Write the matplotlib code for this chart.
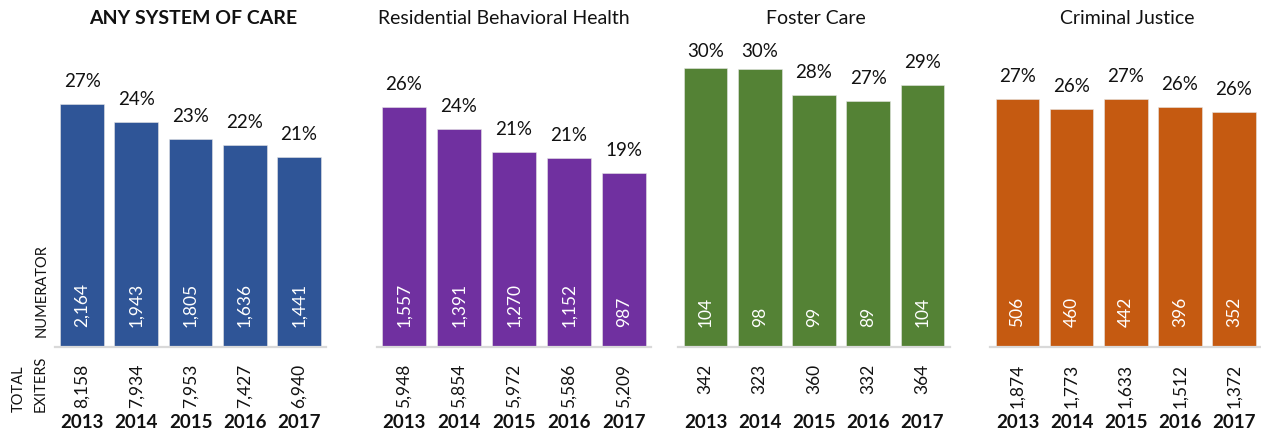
import matplotlib.pyplot as plt
from matplotlib.transforms import blended_transform_factory

plt.rcParams['font.family'] = ['Lato', 'DejaVu Sans']

years = ['2013', '2014', '2015', '2016', '2017']

any_numerator = [2164, 1943, 1805, 1636, 1441]
any_total = [8158, 7934, 7953, 7427, 6940]

rbh_numerator = [1557, 1391, 1270, 1152, 987]
rbh_total = [5948, 5854, 5972, 5586, 5209]

foster_numerator = [104, 98, 99, 89, 104]
foster_total = [342, 323, 360, 332, 364]

cj_numerator = [506, 460, 442, 396, 352]
cj_total = [1874, 1773, 1633, 1512, 1372]

panels = [
    ('ANY SYSTEM OF CARE', any_numerator, any_total, '#2F5597', True),
    ('Residential Behavioral Health', rbh_numerator, rbh_total, '#7030A0', False),
    ('Foster Care', foster_numerator, foster_total, '#548235', False),
    ('Criminal Justice', cj_numerator, cj_total, '#C55A11', False),
]

# layout in pixels (figure is 1261 x 434 at 100 dpi)
W, H = 1261, 434
panel_x = [(55, 326), (376.5, 651.5), (678.4, 949.6), (990.4, 1261)]
title_x = [193, 504, 816, 1127]
base_px, top_px = 347, 42
px_per_unit = 917.0

fig = plt.figure(figsize=(W / 100, H / 100), dpi=100)

for (title, num, tot, color, bold), (l, r), tx in zip(panels, panel_x, title_x):
    ax = fig.add_axes([l / W, (H - base_px) / H, (r - l) / W, (base_px - top_px) / H])
    ymax = (base_px - top_px) / px_per_unit
    rates = [n / t for n, t in zip(num, tot)]
    xs = range(len(years))
    ax.bar(xs, rates, width=0.81, color=color, edgecolor='#e6e6e6', linewidth=0.4)
    ax.set_xlim(-0.5, 4.5)
    ax.set_ylim(0, ymax)
    ax.set_xticks([])
    ax.set_yticks([])
    for side in ['top', 'left', 'right']:
        ax.spines[side].set_visible(False)
    ax.spines['bottom'].set_color('#d9d9d9')
    ax.spines['bottom'].set_linewidth(1.6)

    # percent labels sit above the bar, pushed down if they hit the plot top
    gap = 17 / px_per_unit
    cap = ymax - 15 / px_per_unit
    for x, v in zip(xs, rates):
        ax.text(x, min(v + gap, cap), f'{int(v * 100 + 0.5)}%', ha='center',
                va='baseline', fontsize=13.5, color='#111111', clip_on=False)

    trans = blended_transform_factory(ax.transData, fig.transFigure)
    for x, n, t, yr in zip(xs, num, tot, years):
        ax.text(x, (H - 327) / H, f'{n:,}', transform=trans, rotation=90,
                ha='center', va='bottom', fontsize=12.5, color='white')
        ax.text(x, (H - 364) / H, f'{t:,}', transform=trans, rotation=90,
                ha='center', va='top', fontsize=12.5, color='#111111')
        ax.text(x, (H - 423) / H, yr, transform=trans, ha='center', va='center',
                fontsize=13.5, fontweight='bold', color='#111111')

    fig.text(tx / W, (H - 19) / H, title, ha='center', va='center', fontsize=14,
             fontweight='bold' if bold else 'normal', color='#111111')

fig.text(42 / W, (H - 337) / H, 'NUMERATOR', rotation=90, ha='center',
         va='bottom', fontsize=10.5, color='#111111')
fig.text(30 / W, (H - 412) / H, 'TOTAL\nEXITERS', rotation=90, ha='center',
         va='bottom', fontsize=10.5, color='#111111', multialignment='left',
         linespacing=1.7)

fig.savefig('out.png', dpi=100)
